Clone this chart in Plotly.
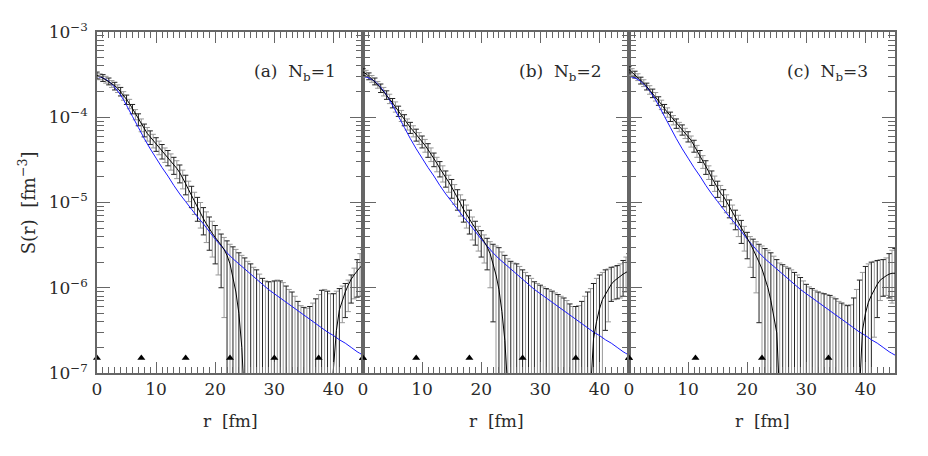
import plotly.graph_objects as go
from plotly.subplots import make_subplots

# sampling grid of the data points [fm]
R = [0, 0.5, 1, 1.5, 2, 2.5, 3, 3.5, 4, 4.5, 5, 5.5, 6, 6.5, 7, 7.5, 8, 8.5, 9, 9.5,
     10, 10.5, 11, 11.5, 12, 12.5, 13, 13.5, 14, 14.5, 15, 15.5, 16, 16.5, 17, 17.5, 18, 18.5, 19, 19.5,
     20, 20.5, 21, 21.5, 22, 22.5, 23, 23.5, 24, 24.5, 25, 25.5, 26, 26.5, 27, 27.5, 28, 28.5, 29, 29.5,
     30, 30.5, 31, 31.5, 32, 32.5, 33, 33.5, 34, 34.5, 35, 35.5, 36, 36.5, 37, 37.5, 38, 38.5, 39, 39.5,
     40, 40.5, 41, 41.5, 42, 42.5, 43, 43.5, 44, 44.5, 45]

# ---- panel (a) N_b = 1 : log10 S(r) ----
A_MID = [-3.51, -3.52, -3.54, -3.56, -3.58, -3.60, -3.63, -3.66, -3.70, -3.74,
         -3.79, -3.84, -3.90, -3.96, -4.02, -4.08, -4.14, -4.19, -4.23, -4.27,
         -4.31, -4.35, -4.39, -4.43, -4.47, -4.51, -4.56, -4.60, -4.65, -4.71,
         -4.78, -4.85, -4.92, -4.99, -5.06, -5.13, -5.19, -5.25, -5.31, -5.36,
         -5.41, -5.45, -5.50, -5.55, -5.62, -5.72, -5.87, -6.05, -6.30, -6.70,
         -7.40, None, None, None, None, None, None, None, None, None,
         None, None, None, None, None, None, None, None, None, None,
         None, None, None, None, None, None, None, None, None, -7.40,
         -6.90, -6.50, -6.26, -6.14, -6.05, -5.97, -5.90, -5.85, -5.80, -5.76, -5.73]
A_UP = [-3.47, -3.49, -3.50, -3.52, -3.54, -3.57, -3.59, -3.62, -3.65, -3.70,
        -3.74, -3.79, -3.85, -3.91, -3.96, -4.02, -4.08, -4.12, -4.16, -4.20,
        -4.24, -4.28, -4.32, -4.36, -4.39, -4.43, -4.47, -4.51, -4.56, -4.62,
        -4.68, -4.75, -4.81, -4.88, -4.94, -5.00, -5.06, -5.11, -5.17, -5.22,
        -5.27, -5.32, -5.37, -5.41, -5.45, -5.49, -5.52, -5.55, -5.59, -5.62,
        -5.65, -5.69, -5.72, -5.76, -5.79, -5.84, -5.89, -5.92, -5.93, -5.93,
        -5.92, -5.91, -5.92, -5.94, -5.98, -6.02, -6.05, -6.10, -6.16, -6.21,
        -6.23, -6.24, -6.22, -6.18, -6.13, -6.08, -6.03, -6.02, -6.04, -6.07,
        -6.07, -6.04, -6.01, -5.98, -5.95, -5.91, -5.85, -5.77, -5.67, -5.60, -5.55]
A_LO = [-3.55, -3.56, -3.58, -3.60, -3.62, -3.65, -3.68, -3.71, -3.75, -3.80,
        -3.85, -3.90, -3.96, -4.03, -4.10, -4.17, -4.23, -4.28, -4.32, -4.36,
        -4.40, -4.44, -4.49, -4.53, -4.57, -4.62, -4.67, -4.72, -4.77, -4.84,
        -4.91, -4.99, -5.06, -5.14, -5.22, -5.30, -5.38, -5.47, -5.56, -5.64,
        -5.72, -5.85, -6.00, -6.35, None, None, None, None, None, None,
        None, None, None, None, None, None, None, None, None, None,
        None, None, None, None, None, None, None, None, None, None,
        None, None, None, None, None, None, None, None, None, None,
        None, None, None, -6.41, -6.35, -6.28, -6.18, -6.13, -6.11, -6.10, -6.10]

# ---- panel (b) N_b = 2 ----
B_MID = [-3.47, -3.49, -3.52, -3.55, -3.58, -3.62, -3.66, -3.70, -3.74, -3.78,
         -3.83, -3.88, -3.93, -3.98, -4.03, -4.08, -4.12, -4.16, -4.20, -4.24,
         -4.28, -4.33, -4.38, -4.43, -4.49, -4.54, -4.60, -4.65, -4.71, -4.76,
         -4.82, -4.88, -4.95, -5.01, -5.08, -5.14, -5.20, -5.25, -5.30, -5.35,
         -5.40, -5.46, -5.52, -5.60, -5.72, -5.85, -6.02, -6.28, -6.62, -7.20,
         None, None, None, None, None, None, None, None, None, None,
         None, None, None, None, None, None, None, None, None, None,
         None, None, None, None, None, None, None, -7.20, -6.60, -6.40,
         -6.25, -6.14, -6.08, -6.01, -5.96, -5.92, -5.89, -5.86, -5.84, -5.82, -5.80]
B_UP = [-3.43, -3.45, -3.48, -3.51, -3.54, -3.58, -3.61, -3.65, -3.69, -3.73,
        -3.78, -3.82, -3.87, -3.92, -3.97, -4.02, -4.06, -4.10, -4.14, -4.18,
        -4.22, -4.26, -4.31, -4.36, -4.42, -4.47, -4.52, -4.57, -4.63, -4.68,
        -4.73, -4.79, -4.85, -4.91, -4.97, -5.03, -5.09, -5.17, -5.22, -5.28,
        -5.33, -5.38, -5.42, -5.46, -5.49, -5.51, -5.53, -5.58, -5.62, -5.66,
        -5.69, -5.71, -5.72, -5.75, -5.79, -5.82, -5.86, -5.89, -5.93, -5.95,
        -5.97, -5.99, -6.01, -6.02, -6.04, -6.06, -6.08, -6.10, -6.12, -6.15,
        -6.19, -6.22, -6.22, -6.21, -6.16, -6.10, -6.05, -6.01, -5.95, -5.89,
        -5.85, -5.82, -5.79, -5.78, -5.76, -5.75, -5.74, -5.72, -5.68, -5.64, -5.60]
B_LO = [-3.51, -3.53, -3.56, -3.59, -3.62, -3.66, -3.71, -3.75, -3.79, -3.84,
        -3.89, -3.94, -3.99, -4.05, -4.10, -4.15, -4.19, -4.23, -4.28, -4.32,
        -4.36, -4.41, -4.47, -4.52, -4.58, -4.64, -4.70, -4.76, -4.82, -4.88,
        -4.95, -5.02, -5.09, -5.16, -5.23, -5.30, -5.37, -5.44, -5.50, -5.57,
        -5.64, -5.71, -5.79, -6.00, -6.40, None, None, None, None, None,
        None, None, None, None, None, None, None, None, None, None,
        None, None, None, None, None, None, None, None, None, None,
        None, None, None, None, None, None, None, None, None, None,
        None, None, -6.50, -6.40, -6.16, -6.14, -6.13, -6.12, -6.10, -6.05, -6.00]

# ---- panel (c) N_b = 3 ----
C_MID = [-3.44, -3.47, -3.50, -3.53, -3.57, -3.60, -3.64, -3.68, -3.72, -3.76,
         -3.81, -3.85, -3.90, -3.94, -3.99, -4.03, -4.07, -4.11, -4.14, -4.18,
         -4.22, -4.27, -4.33, -4.39, -4.45, -4.51, -4.58, -4.64, -4.71, -4.77,
         -4.84, -4.89, -4.93, -4.99, -5.05, -5.11, -5.17, -5.23, -5.29, -5.35,
         -5.42, -5.48, -5.55, -5.62, -5.70, -5.78, -5.88, -6.00, -6.15, -6.32,
         -6.53, -7.30, None, None, None, None, None, None, None, None,
         None, None, None, None, None, None, None, None, None, None,
         None, None, None, None, None, None, None, None, -7.20, -6.50,
         -6.30, -6.17, -6.09, -6.02, -5.96, -5.91, -5.88, -5.86, -5.84, -5.83, -5.83]
C_UP = [-3.40, -3.43, -3.46, -3.49, -3.53, -3.56, -3.60, -3.63, -3.67, -3.71,
        -3.76, -3.80, -3.85, -3.89, -3.94, -3.98, -4.02, -4.06, -4.09, -4.13,
        -4.17, -4.22, -4.27, -4.33, -4.39, -4.45, -4.51, -4.57, -4.63, -4.69,
        -4.75, -4.80, -4.85, -4.91, -4.97, -5.03, -5.09, -5.15, -5.21, -5.28,
        -5.35, -5.40, -5.43, -5.46, -5.49, -5.51, -5.54, -5.56, -5.59, -5.63,
        -5.67, -5.71, -5.73, -5.75, -5.77, -5.79, -5.82, -5.85, -5.88, -5.92,
        -5.96, -5.99, -6.01, -6.03, -6.05, -6.06, -6.07, -6.08, -6.09, -6.11,
        -6.13, -6.16, -6.18, -6.20, -6.21, -6.20, -6.12, -6.02, -5.91, -5.82,
        -5.75, -5.72, -5.70, -5.69, -5.68, -5.67, -5.67, -5.65, -5.60, -5.56, -5.54]
C_LO = [-3.48, -3.51, -3.54, -3.57, -3.61, -3.64, -3.68, -3.73, -3.77, -3.81,
        -3.86, -3.91, -3.95, -4.00, -4.05, -4.09, -4.13, -4.17, -4.21, -4.25,
        -4.29, -4.35, -4.41, -4.47, -4.53, -4.60, -4.67, -4.73, -4.80, -4.87,
        -4.94, -4.99, -5.05, -5.12, -5.18, -5.25, -5.32, -5.40, -5.48, -5.57,
        -5.66, -5.76, -5.88, -6.06, -6.41, None, None, None, None, None,
        None, None, None, None, None, None, None, None, None, None,
        None, None, None, None, None, None, None, None, None, None,
        None, None, None, None, None, None, None, None, None, None,
        None, None, None, -6.58, -6.35, -6.15, -6.10, -6.09, -6.12, -6.18, -6.15]

# ---- reference (blue) curve, same in all panels ----
BLUE_R = [0, 1, 2, 3, 4, 5, 6, 7, 8, 9, 10, 11, 12, 13, 14, 15, 16, 17, 18, 19, 20, 21, 22,
          23, 24, 25, 26, 27, 28, 29, 30, 31, 32, 33, 34, 35, 36, 37, 38, 39, 40, 41, 42, 43, 44, 45]
BLUE = [-3.52, -3.54, -3.58, -3.65, -3.74, -3.86, -3.99, -4.12, -4.25, -4.37, -4.48, -4.59,
        -4.69, -4.80, -4.90, -4.99, -5.08, -5.17, -5.25, -5.34, -5.43, -5.51, -5.59, -5.66,
        -5.72, -5.78, -5.84, -5.90, -5.96, -6.02, -6.07, -6.12, -6.17, -6.22, -6.27, -6.32,
        -6.37, -6.42, -6.47, -6.52, -6.56, -6.61, -6.65, -6.70, -6.75, -6.79]

# triangle markers (positions in fm)
TRI_A = [0, 7.5, 15, 22.5, 30, 37.5, 45]
TRI_B = [0, 9, 18, 27, 36, 45]
TRI_C = [0, 11.25, 22.5, 33.75]
TRI_LEVEL = 1.5e-7

LABELS = ["(a)  N<sub>b</sub>=1", "(b)  N<sub>b</sub>=2", "(c)  N<sub>b</sub>=3"]
X_TICKS = [0, 10, 20, 30, 40]
Y_TICKS = [1e-7, 1e-6, 1e-5, 1e-4, 1e-3]
Y_TICKTEXT = ["10<sup>\u22127</sup>", "10<sup>\u22126</sup>", "10<sup>\u22125</sup>",
              "10<sup>\u22124</sup>", "10<sup>\u22123</sup>"]

FONT = "DejaVu Serif"
TXT = "#2a2a2a"
AX = "#666666"
CAP = 0.45


def bars(up, lo, parity):
    xs, ys = [], []
    for i, (rr, u, l) in enumerate(zip(R, up, lo)):
        if i % 2 != parity:
            continue
        yu = 10 ** u
        yl = 10 ** l if l is not None else 1e-9
        xs += [rr, rr, None, rr - CAP, rr + CAP, None]
        ys += [yl, yu, None, yu, yu, None]
        if l is not None:
            xs += [rr - CAP, rr + CAP, None]
            ys += [yl, yl, None]
    return xs, ys


fig = make_subplots(rows=1, cols=3, shared_yaxes=True, horizontal_spacing=0)

panels = [(A_MID, A_UP, A_LO, TRI_A), (B_MID, B_UP, B_LO, TRI_B), (C_MID, C_UP, C_LO, TRI_C)]
for k, (mid, up, lo, tri) in enumerate(panels):
    col = k + 1
    xg, yg = bars(up, lo, 1)
    fig.add_trace(go.Scatter(x=xg, y=yg, mode="lines", line=dict(color="#999999", width=1),
                             hoverinfo="skip", showlegend=False), row=1, col=col)
    xb, yb = bars(up, lo, 0)
    fig.add_trace(go.Scatter(x=xb, y=yb, mode="lines", line=dict(color="#222222", width=1),
                             hoverinfo="skip", showlegend=False), row=1, col=col)
    fig.add_trace(go.Scatter(x=BLUE_R, y=[10 ** v for v in BLUE], mode="lines",
                             line=dict(color="#1a1aff", width=1, shape="spline"),
                             showlegend=False), row=1, col=col)
    fig.add_trace(go.Scatter(x=R, y=[10 ** v if v is not None else None for v in mid],
                             mode="lines", line=dict(color="#000000", width=1),
                             connectgaps=False, showlegend=False), row=1, col=col)
    fig.add_trace(go.Scatter(x=tri, y=[TRI_LEVEL] * len(tri), mode="markers",
                             marker=dict(symbol="triangle-up", size=7, color="#000000"),
                             cliponaxis=False, showlegend=False), row=1, col=col)

    xa = "x" if k == 0 else f"x{col}"
    ya = "y" if k == 0 else f"y{col}"
    fig.add_annotation(x=40.8, y=-3.48, xref=xa, yref=ya, text=LABELS[k], showarrow=False,
                       xanchor="right", yanchor="middle",
                       font=dict(family=FONT, size=17, color=TXT))

    fig.update_xaxes(row=1, col=col, range=[0, 45], tickvals=X_TICKS, ticks="inside",
                     ticklen=11, tickwidth=1, tickcolor=AX, showline=True, linecolor=AX,
                     linewidth=1.5, mirror="ticks", showgrid=False, zeroline=False,
                     tickfont=dict(family=FONT, size=17, color=TXT),
                     minor=dict(dtick=1, tick0=0, ticks="inside", ticklen=6,
                                tickcolor=AX, tickwidth=1, showgrid=False))
    minor_y = [m * 10 ** e for e in range(-7, -3) for m in range(2, 10)]
    fig.update_yaxes(row=1, col=col, type="log", range=[-7, -3], tickvals=Y_TICKS,
                     ticktext=Y_TICKTEXT, ticks="inside", ticklen=13, tickwidth=1,
                     tickcolor=AX, showline=True, linecolor=AX, linewidth=1.5,
                     mirror="ticks", showgrid=False, zeroline=False,
                     ticklabelstandoff=4,
                     tickfont=dict(family=FONT, size=17, color=TXT),
                     minor=dict(tickmode="array", tickvals=minor_y, ticks="inside",
                                ticklen=7, tickcolor=AX, tickwidth=1, showgrid=False))

    fig.add_annotation(x=(k + 0.5) / 3, y=-0.14, xref="paper", yref="paper", text="r  [fm]",
                       showarrow=False, xanchor="center", yanchor="middle",
                       font=dict(family=FONT, size=17, color=TXT))

fig.add_annotation(x=-0.088, y=0.5, xref="paper", yref="paper",
                   text="S(r)  [fm<sup>\u22123</sup>]", textangle=-90, showarrow=False,
                   xanchor="center", yanchor="middle",
                   font=dict(family=FONT, size=18, color=TXT))

# the page body adds an 8 px offset; size the figure so the plot area lands in place
fig.update_layout(width=912, height=440, margin=dict(l=89, r=25, t=24, b=75),
                  paper_bgcolor="white", plot_bgcolor="white", showlegend=False)

fig.write_html("out.html")
